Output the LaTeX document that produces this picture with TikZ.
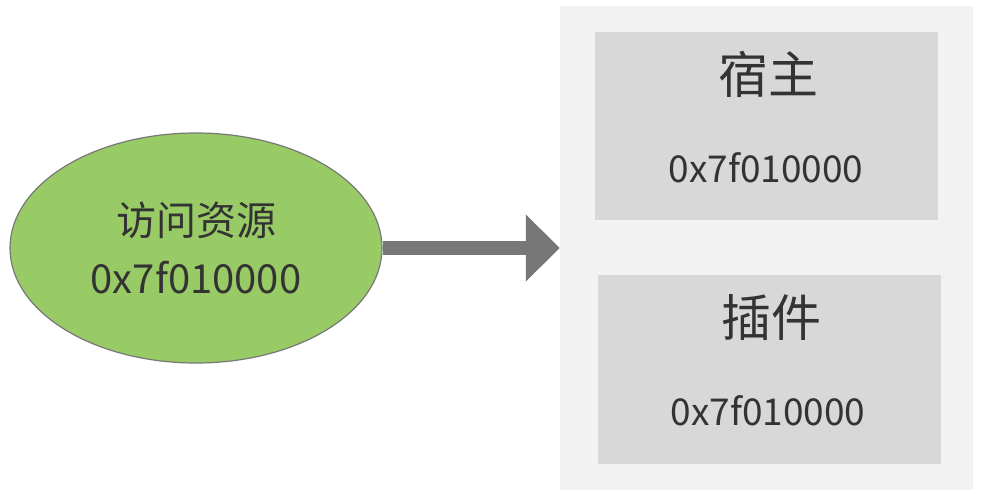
\documentclass[tikz,border=0pt]{standalone}
\usepackage{fontspec}
\setmainfont{Noto Sans CJK SC}
\usetikzlibrary{arrows.meta,shapes}
\usetikzlibrary{calc}

\definecolor{leafgreen}{HTML}{98CB65}
\definecolor{rimgray}{HTML}{777777}
\definecolor{panelgray}{HTML}{F2F2F2}
\definecolor{boxgray}{HTML}{D8D8D8}
\definecolor{inkgray}{HTML}{333333}

\tikzset{
  regionbox/.style={draw=none, fill=boxgray, minimum width=343pt, minimum height=188pt, inner sep=0pt},
  titletext/.style={text=inkgray, font=\fontsize{50}{60}\selectfont},
  addrtext/.style={text=inkgray, font=\fontsize{37}{44}\selectfont}
}

\begin{document}
\begin{tikzpicture}[x=1pt, y=-1pt]
 \useasboundingbox (0,0) rectangle (982,500);

 % right side: resource table
 \node[fill=panelgray, minimum width=413pt, minimum height=484pt, inner sep=0pt] (panel) at (766.5,248) {};
 \node[regionbox] (host) at (766.5,126) {};
 \node[regionbox, minimum height=189pt] (plugin) at (769.5,369.5) {};

 \node[titletext] (hostname) at (768,74) {宿主};
 \node[addrtext] (hostaddr) at (766,168) {0x7f010000};
 \node[titletext] (pluginname) at (771,318) {插件};
 \node[addrtext] (pluginaddr) at (768,411) {0x7f010000};

 % left side: the access
 \node[ellipse, draw=rimgray, line width=1.2pt, fill=leafgreen, minimum width=372pt, minimum height=230pt, inner sep=0pt,
       text=inkgray, align=center, font=\fontsize{40}{58}\selectfont] (access) at (196,248) {访问资源\\0x7f010000};

 %\draw[->, thick] (access) -- (panel);
 \draw[rimgray, line width=14pt, -{Triangle[length=34pt, width=65pt]}] (access.east) -- (panel.west);

\end{tikzpicture}
\end{document}
